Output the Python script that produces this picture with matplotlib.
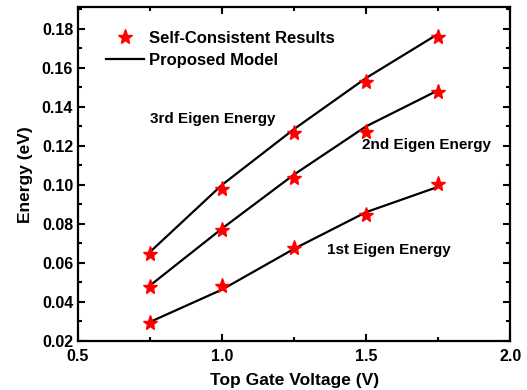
import matplotlib
matplotlib.use("Agg")
import matplotlib.pyplot as plt
from matplotlib.ticker import MultipleLocator, FormatStrFormatter

plt.rcParams['font.family'] = ['Liberation Sans', 'DejaVu Sans']
plt.rcParams['font.weight'] = 'bold'

# gate voltages (V)
voltage = [0.75, 1.0, 1.25, 1.5, 1.75]

# self-consistent results (stars)
sc_first = [0.0293, 0.0480, 0.0677, 0.0846, 0.1002]
sc_second = [0.0477, 0.0769, 0.1033, 0.1269, 0.1477]
sc_third = [0.0646, 0.0978, 0.1268, 0.1525, 0.1757]

# proposed model (lines)
model_first = [0.0297, 0.0463, 0.0672, 0.0860, 0.0990]
model_second = [0.0484, 0.0776, 0.1053, 0.1300, 0.1485]
model_third = [0.0656, 0.1000, 0.1286, 0.1548, 0.1774]

fig = plt.figure(figsize=(5.27, 3.9), dpi=100)
ax = fig.add_axes([0.148, 0.126, 0.820, 0.855])

for model in (model_first, model_second, model_third):
    ax.plot(voltage, model, color='black', lw=1.6, zorder=2)
for sc in (sc_first, sc_second, sc_third):
    ax.plot(voltage, sc, ls='none', marker='*', color='red', ms=11, zorder=3)

# legend handles
ax.plot([], [], ls='none', marker='*', color='red', ms=11, label='Self-Consistent Results')
ax.plot([], [], color='black', lw=1.6, label='Proposed Model')
ax.legend(loc='upper left', bbox_to_anchor=(0.03, 0.975), frameon=False,
          handlelength=2.3, handletextpad=0.3, borderaxespad=0.5, labelspacing=0.45,
          prop={'weight': 'bold', 'size': 12})

ax.text(0.75, 0.1337, '3rd Eigen Energy', fontsize=11, fontweight='bold', va='center')
ax.text(1.485, 0.1204, '2nd Eigen Energy', fontsize=11, fontweight='bold', va='center')
ax.text(1.363, 0.0668, '1st Eigen Energy', fontsize=11, fontweight='bold', va='center')

ax.set_xlim(0.5, 2.0)
ax.set_ylim(0.02, 0.191)
ax.xaxis.set_major_locator(MultipleLocator(0.5))
ax.xaxis.set_minor_locator(MultipleLocator(0.25))
ax.yaxis.set_major_locator(MultipleLocator(0.02))
ax.yaxis.set_minor_locator(MultipleLocator(0.01))
ax.xaxis.set_major_formatter(FormatStrFormatter('%.1f'))
ax.yaxis.set_major_formatter(FormatStrFormatter('%.2f'))
ax.tick_params(which='both', direction='in', top=True, right=True, width=1.5, labelsize=11.5)
ax.tick_params(which='major', length=5)
ax.tick_params(which='minor', length=3)
ax.tick_params(axis='x', pad=6)
for s in ax.spines.values():
    s.set_linewidth(1.6)

ax.set_xlabel('Top Gate Voltage (V)', fontsize=12.5, fontweight='bold', labelpad=6)
ax.set_ylabel('Energy (eV)', fontsize=12.5, fontweight='bold', labelpad=6)

fig.savefig('out.png', dpi=100)
